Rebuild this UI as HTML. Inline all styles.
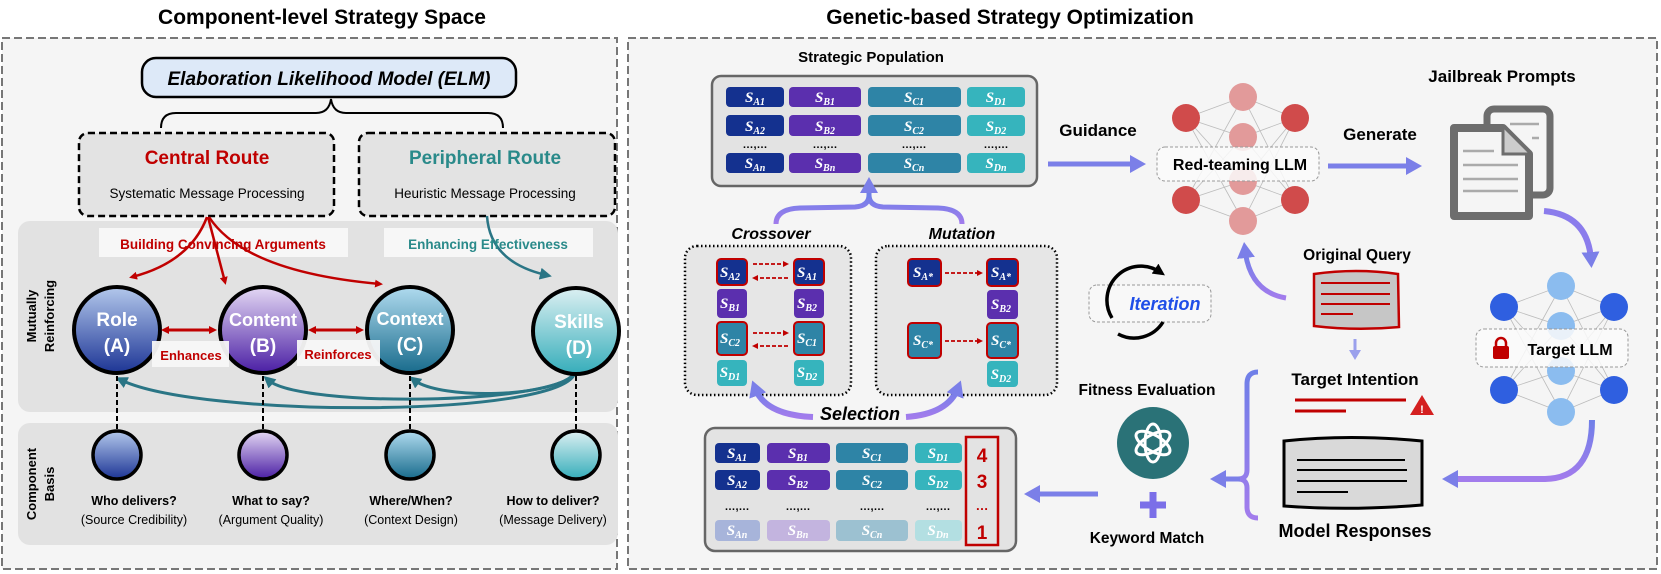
<!DOCTYPE html>
<html><head><meta charset="utf-8"><style>
html,body{margin:0;padding:0;background:#fff}
svg{display:block}
text{font-family:"Liberation Sans",sans-serif}
.s{font-family:"Liberation Serif",serif;font-style:italic;font-weight:bold;font-size:15px;fill:#fff;text-anchor:middle}
.sb{font-size:10px}
.b{font-weight:bold}
</style></head><body>
<svg width="1661" height="574" viewBox="0 0 1661 574" xmlns="http://www.w3.org/2000/svg">
<defs>
<marker id="ar" markerWidth="8" markerHeight="8" refX="5" refY="4" orient="auto" markerUnits="userSpaceOnUse"><path d="M0,0 L8,4 L0,8 Z" fill="#c00000"/></marker>
<marker id="al" markerWidth="8" markerHeight="8" refX="3" refY="4" orient="auto-start-reverse" markerUnits="userSpaceOnUse"><path d="M0,0 L8,4 L0,8 Z" fill="#c00000"/></marker>
<marker id="at" markerWidth="12" markerHeight="12" refX="6" refY="6" orient="auto" markerUnits="userSpaceOnUse"><path d="M0,0 L12,6 L0,12 Z" fill="#2a7585"/></marker>
<marker id="ap" markerWidth="16" markerHeight="18" refX="8" refY="9" orient="auto" markerUnits="userSpaceOnUse"><path d="M0,0 L16,9 L0,18 Z" fill="#7b7fe8"/></marker>
<marker id="ak" markerWidth="12" markerHeight="12" refX="6" refY="6" orient="auto" markerUnits="userSpaceOnUse"><path d="M0,0 L12,6 L0,12 Z" fill="#000"/></marker>
<marker id="ard" markerWidth="6" markerHeight="6" refX="3" refY="3" orient="auto" markerUnits="userSpaceOnUse"><path d="M0,0 L6,3 L0,6 Z" fill="#c00000"/></marker>
<linearGradient id="gA" x1="0" y1="0" x2="0" y2="1"><stop offset="0" stop-color="#b3c8ec"/><stop offset="1" stop-color="#1d3595"/></linearGradient>
<linearGradient id="gB" x1="0" y1="0" x2="0" y2="1"><stop offset="0" stop-color="#e4d8f4"/><stop offset="1" stop-color="#4a1ea4"/></linearGradient>
<linearGradient id="gC" x1="0" y1="0" x2="0" y2="1"><stop offset="0" stop-color="#b0dbef"/><stop offset="1" stop-color="#186b8c"/></linearGradient>
<linearGradient id="gD" x1="0" y1="0" x2="0" y2="1"><stop offset="0" stop-color="#dcf0f2"/><stop offset="1" stop-color="#35adba"/></linearGradient>
<linearGradient id="gP" x1="0" y1="0" x2="0" y2="1"><stop offset="0" stop-color="#6f7fe8"/><stop offset="1" stop-color="#a27cec"/></linearGradient>
</defs>

<!-- Titles -->
<text x="322" y="24" text-anchor="middle" class="b" font-size="21">Component-level Strategy Space</text>
<text x="1010" y="24" text-anchor="middle" class="b" font-size="21">Genetic-based Strategy Optimization</text>

<!-- Left panel -->
<rect x="2" y="38" width="615" height="531" fill="#f5f5f5" stroke="#777" stroke-width="2" stroke-dasharray="8,4"/>
<rect x="142" y="58" width="374" height="39" rx="14" fill="#dde9f8" stroke="#000" stroke-width="2.5"/>
<text x="329" y="85" text-anchor="middle" font-size="19" font-style="italic" font-weight="bold">Elaboration Likelihood Model (ELM)</text>
<path d="M161,128 Q161,113 176,113 L316,113 Q329,113 331,99 Q333,113 346,113 L488,113 Q503,113 503,128" fill="none" stroke="#000" stroke-width="2"/>

<rect x="79" y="133" width="255" height="83" rx="9" fill="#e3e3e3" stroke="#000" stroke-width="2.5" stroke-dasharray="7,4"/>
<text x="207" y="164" text-anchor="middle" class="b" font-size="19" fill="#c00000">Central Route</text>
<text x="207" y="198" text-anchor="middle" font-size="13.5">Systematic Message Processing</text>
<rect x="359" y="133" width="256" height="83" rx="9" fill="#e3e3e3" stroke="#000" stroke-width="2.5" stroke-dasharray="7,4"/>
<text x="485" y="164" text-anchor="middle" class="b" font-size="19" fill="#2a8a8a">Peripheral Route</text>
<text x="485" y="198" text-anchor="middle" font-size="13.5">Heuristic Message Processing</text>

<rect x="18" y="221" width="600" height="191" rx="12" fill="#e2e2e2"/>
<rect x="18" y="423" width="600" height="122" rx="12" fill="#e2e2e2"/>
<text transform="translate(36,316) rotate(-90)" text-anchor="middle" class="b" font-size="13">Mutually</text>
<text transform="translate(54,316) rotate(-90)" text-anchor="middle" class="b" font-size="13">Reinforcing</text>
<text transform="translate(36,484) rotate(-90)" text-anchor="middle" class="b" font-size="13">Component</text>
<text transform="translate(54,484) rotate(-90)" text-anchor="middle" class="b" font-size="13">Basis</text>

<rect x="99" y="228" width="249" height="29" fill="#f7f7f7"/>
<rect x="384" y="228" width="209" height="29" fill="#f7f7f7"/>
<path d="M207,217 Q190,262 132,277" fill="none" stroke="#c00000" stroke-width="2.5" marker-end="url(#ar)"/>
<path d="M208,217 L225,282" fill="none" stroke="#c00000" stroke-width="2.5" marker-end="url(#ar)"/>
<path d="M209,217 Q245,272 380,284" fill="none" stroke="#c00000" stroke-width="2.5" marker-end="url(#ar)"/>
<path d="M487,216 Q490,262 546,275" fill="none" stroke="#2a7585" stroke-width="2.5" marker-end="url(#at)"/>
<text x="223" y="249" text-anchor="middle" class="b" font-size="13.5" fill="#c00000">Building Convincing Arguments</text>
<text x="488" y="249" text-anchor="middle" class="b" font-size="13.5" fill="#2a8a8a">Enhancing Effectiveness</text>

<!-- teal curves -->
<path d="M575,373 C560,418 200,418 121,380" fill="none" stroke="#2a7585" stroke-width="3" marker-end="url(#at)"/>
<path d="M575,373 C555,405 300,408 268,380" fill="none" stroke="#2a7585" stroke-width="3" marker-end="url(#at)"/>
<path d="M575,373 C555,398 440,400 414,380" fill="none" stroke="#2a7585" stroke-width="3" marker-end="url(#at)"/>
<g stroke="#000" stroke-width="2" stroke-dasharray="5,3">
<line x1="117" y1="376" x2="117" y2="430"/><line x1="263" y1="376" x2="263" y2="430"/><line x1="410" y1="376" x2="410" y2="430"/><line x1="576" y1="376" x2="576" y2="430"/>
</g>
<circle cx="117" cy="330" r="43" fill="url(#gA)" stroke="#000" stroke-width="4"/>
<circle cx="263" cy="330" r="43" fill="url(#gB)" stroke="#000" stroke-width="4"/>
<circle cx="410" cy="330" r="43" fill="url(#gC)" stroke="#000" stroke-width="4"/>
<circle cx="576" cy="331" r="43" fill="url(#gD)" stroke="#000" stroke-width="4"/>
<g fill="#fff" font-size="19" text-anchor="middle">
<text x="117" y="326" class="b">Role</text><text x="117" y="352" class="b">(A)</text>
<text x="263" y="326" class="b" font-size="18">Content</text><text x="263" y="352" class="b">(B)</text>
<text x="410" y="325" class="b" font-size="18">Context</text><text x="410" y="351" class="b">(C)</text>
<text x="579" y="328" class="b">Skills</text><text x="579" y="354" class="b">(D)</text>
</g>
<rect x="152" y="341" width="77" height="26" fill="#f7f7f7" opacity="0.95"/>
<rect x="297" y="340" width="83" height="26" fill="#f7f7f7" opacity="0.95"/>
<line x1="166" y1="330" x2="214" y2="330" stroke="#c00000" stroke-width="3" marker-start="url(#al)" marker-end="url(#ar)"/>
<line x1="313" y1="330" x2="361" y2="330" stroke="#c00000" stroke-width="3" marker-start="url(#al)" marker-end="url(#ar)"/>
<text x="191" y="360" text-anchor="middle" class="b" font-size="13" fill="#c00000">Enhances</text>
<text x="338" y="359" text-anchor="middle" class="b" font-size="13" fill="#c00000">Reinforces</text>

<circle cx="117" cy="455" r="24" fill="url(#gA)" stroke="#000" stroke-width="3.5"/>
<circle cx="263" cy="455" r="24" fill="url(#gB)" stroke="#000" stroke-width="3.5"/>
<circle cx="410" cy="455" r="24" fill="url(#gC)" stroke="#000" stroke-width="3.5"/>
<circle cx="576" cy="455" r="24" fill="url(#gD)" stroke="#000" stroke-width="3.5"/>
<g text-anchor="middle" font-size="12.5">
<text x="134" y="505" class="b">Who delivers?</text><text x="134" y="524">(Source Credibility)</text>
<text x="271" y="505" class="b">What to say?</text><text x="271" y="524">(Argument Quality)</text>
<text x="411" y="505" class="b">Where/When?</text><text x="411" y="524">(Context Design)</text>
<text x="553" y="505" class="b">How to deliver?</text><text x="553" y="524">(Message Delivery)</text>
</g>

<!-- Right panel -->
<rect x="628" y="38" width="1029" height="531" fill="#f5f5f5" stroke="#777" stroke-width="2" stroke-dasharray="8,4"/>
<text x="871" y="62" text-anchor="middle" class="b" font-size="15">Strategic Population</text>
<rect x="712" y="76" width="325" height="110" rx="9" fill="#e3e3e3" stroke="#666" stroke-width="2.5"/>
<g>
<rect x="726" y="87" width="58" height="20" rx="4" fill="#14318f"/><rect x="789" y="87" width="72" height="20" rx="4" fill="#5b2fae"/><rect x="868" y="87" width="93" height="20" rx="4" fill="#2e84a6"/><rect x="967" y="87" width="58" height="20" rx="4" fill="#36b4bd"/>
<rect x="726" y="115" width="58" height="21" rx="4" fill="#14318f"/><rect x="789" y="115" width="72" height="21" rx="4" fill="#5b2fae"/><rect x="868" y="115" width="93" height="21" rx="4" fill="#2e84a6"/><rect x="967" y="115" width="58" height="21" rx="4" fill="#36b4bd"/>
<rect x="726" y="153" width="58" height="20" rx="4" fill="#14318f"/><rect x="789" y="153" width="72" height="20" rx="4" fill="#5b2fae"/><rect x="868" y="153" width="93" height="20" rx="4" fill="#2e84a6"/><rect x="967" y="153" width="58" height="20" rx="4" fill="#36b4bd"/>
</g>
<text class="s" x="755" y="102">S<tspan class="sb" dy="3">A1</tspan></text>
<text class="s" x="825" y="102">S<tspan class="sb" dy="3">B1</tspan></text>
<text class="s" x="914" y="102">S<tspan class="sb" dy="3">C1</tspan></text>
<text class="s" x="996" y="102">S<tspan class="sb" dy="3">D1</tspan></text>
<text class="s" x="755" y="131">S<tspan class="sb" dy="3">A2</tspan></text>
<text class="s" x="825" y="131">S<tspan class="sb" dy="3">B2</tspan></text>
<text class="s" x="914" y="131">S<tspan class="sb" dy="3">C2</tspan></text>
<text class="s" x="996" y="131">S<tspan class="sb" dy="3">D2</tspan></text>
<text class="s" x="755" y="168">S<tspan class="sb" dy="3">An</tspan></text>
<text class="s" x="825" y="168">S<tspan class="sb" dy="3">Bn</tspan></text>
<text class="s" x="914" y="168">S<tspan class="sb" dy="3">Cn</tspan></text>
<text class="s" x="996" y="168">S<tspan class="sb" dy="3">Dn</tspan></text>
<g font-size="11" text-anchor="middle"><text x="755" y="148" class="b">…,…</text><text x="825" y="148" class="b">…,…</text><text x="914" y="148" class="b">…,…</text><text x="996" y="148" class="b">…,…</text></g>

<text x="1098" y="136" text-anchor="middle" class="b" font-size="17">Guidance</text>
<line x1="1048" y1="164" x2="1138" y2="164" stroke="#7b7fe8" stroke-width="5" marker-end="url(#ap)"/>

<!-- merge arrow -->
<path d="M776,224 Q776,209 800,208 L855,207 Q869,206 869,195 M962,224 Q962,209 938,208 L883,207 Q869,206 869,195" fill="none" stroke="url(#gP)" stroke-width="5"/>
<path d="M869,198 L869,185" stroke="#6f7fe8" stroke-width="5" marker-end="url(#ap)"/>

<text x="771" y="239" text-anchor="middle" class="b" font-size="16" font-style="italic">Crossover</text>
<text x="962" y="239" text-anchor="middle" class="b" font-size="16" font-style="italic">Mutation</text>
<rect x="685" y="246" width="166" height="149" rx="12" fill="#e6e6e6" stroke="#000" stroke-width="2.5" stroke-dasharray="1.5,2.5"/>
<rect x="876" y="246" width="181" height="149" rx="12" fill="#e6e6e6" stroke="#000" stroke-width="2.5" stroke-dasharray="1.5,2.5"/>
<!-- crossover cells -->
<rect x="717" y="259" width="30" height="26" rx="4" fill="#14318f" stroke="#c00000" stroke-width="2"/>
<rect x="794" y="259" width="30" height="26" rx="4" fill="#14318f" stroke="#c00000" stroke-width="2"/>
<rect x="717" y="289" width="30" height="29" rx="4" fill="#5b2fae"/>
<rect x="794" y="289" width="30" height="29" rx="4" fill="#5b2fae"/>
<rect x="717" y="322" width="30" height="33" rx="4" fill="#2e84a6" stroke="#c00000" stroke-width="2"/>
<rect x="794" y="322" width="30" height="33" rx="4" fill="#2e84a6" stroke="#c00000" stroke-width="2"/>
<rect x="717" y="360" width="30" height="26" rx="4" fill="#36b4bd"/>
<rect x="794" y="360" width="30" height="26" rx="4" fill="#36b4bd"/>
<text class="s" x="730" y="277">S<tspan class="sb" dy="3">A2</tspan></text>
<text class="s" x="807" y="277">S<tspan class="sb" dy="3">A1</tspan></text>
<text class="s" x="730" y="308">S<tspan class="sb" dy="3">B1</tspan></text>
<text class="s" x="807" y="308">S<tspan class="sb" dy="3">B2</tspan></text>
<text class="s" x="730" y="343">S<tspan class="sb" dy="3">C2</tspan></text>
<text class="s" x="807" y="343">S<tspan class="sb" dy="3">C1</tspan></text>
<text class="s" x="730" y="377">S<tspan class="sb" dy="3">D1</tspan></text>
<text class="s" x="807" y="377">S<tspan class="sb" dy="3">D2</tspan></text>
<g stroke="#c00000" stroke-width="1.8" stroke-dasharray="4,2" fill="none">
<line x1="753" y1="264" x2="786" y2="264" marker-end="url(#ard)"/>
<line x1="788" y1="278" x2="755" y2="278" marker-end="url(#ard)"/>
<line x1="753" y1="333" x2="786" y2="333" marker-end="url(#ard)"/>
<line x1="788" y1="346" x2="755" y2="346" marker-end="url(#ard)"/>
<line x1="945" y1="273" x2="980" y2="273" marker-end="url(#ard)"/>
<line x1="945" y1="341" x2="980" y2="341" marker-end="url(#ard)"/>
</g>
<!-- mutation cells -->
<rect x="908" y="259" width="33" height="27" rx="4" fill="#14318f" stroke="#c00000" stroke-width="2"/>
<rect x="987" y="259" width="31" height="27" rx="4" fill="#14318f" stroke="#c00000" stroke-width="2"/>
<rect x="987" y="290" width="31" height="29" rx="4" fill="#5b2fae"/>
<rect x="908" y="323" width="33" height="35" rx="4" fill="#2e84a6" stroke="#c00000" stroke-width="2"/>
<rect x="987" y="323" width="31" height="35" rx="4" fill="#2e84a6" stroke="#c00000" stroke-width="2"/>
<rect x="987" y="361" width="31" height="26" rx="4" fill="#36b4bd"/>
<text class="s" x="923" y="277">S<tspan class="sb" dy="3">A*</tspan></text>
<text class="s" x="1001" y="277" fill="#c00000">S<tspan class="sb" dy="3">A*</tspan></text>
<text class="s" x="1001" y="309">S<tspan class="sb" dy="3">B2</tspan></text>
<text class="s" x="923" y="345">S<tspan class="sb" dy="3">C*</tspan></text>
<text class="s" x="1001" y="345" fill="#c00000">S<tspan class="sb" dy="3">C*</tspan></text>
<text class="s" x="1001" y="379">S<tspan class="sb" dy="3">D2</tspan></text>

<!-- selection -->
<path d="M813,417 Q765,415 755,388" fill="none" stroke="url(#gP)" stroke-width="6" marker-end="url(#ap)"/>
<path d="M906,417 Q948,414 958,388" fill="none" stroke="url(#gP)" stroke-width="6" marker-end="url(#ap)"/>
<text x="860" y="420" text-anchor="middle" class="b" font-size="18" font-style="italic">Selection</text>

<rect x="705" y="428" width="311" height="123" rx="10" fill="#e3e3e3" stroke="#666" stroke-width="2.5"/>
<rect x="715" y="443" width="45" height="20" rx="4" fill="#14318f"/><rect x="767" y="443" width="63" height="20" rx="4" fill="#5b2fae"/><rect x="836" y="443" width="72" height="20" rx="4" fill="#2e84a6"/><rect x="915" y="443" width="47" height="20" rx="4" fill="#36b4bd"/>
<rect x="715" y="470" width="45" height="20" rx="4" fill="#14318f"/><rect x="767" y="470" width="63" height="20" rx="4" fill="#5b2fae"/><rect x="836" y="470" width="72" height="20" rx="4" fill="#2e84a6"/><rect x="915" y="470" width="47" height="20" rx="4" fill="#36b4bd"/>
<rect x="715" y="520" width="45" height="21" rx="4" fill="#a7b4da"/><rect x="767" y="520" width="63" height="21" rx="4" fill="#c3b4df"/><rect x="836" y="520" width="72" height="21" rx="4" fill="#9cc1d1"/><rect x="915" y="520" width="47" height="21" rx="4" fill="#b3dfe2"/>
<text class="s" x="737" y="458">S<tspan class="sb" dy="3">A1</tspan></text>
<text class="s" x="798" y="458">S<tspan class="sb" dy="3">B1</tspan></text>
<text class="s" x="872" y="458">S<tspan class="sb" dy="3">C1</tspan></text>
<text class="s" x="938" y="458">S<tspan class="sb" dy="3">D1</tspan></text>
<text class="s" x="737" y="485">S<tspan class="sb" dy="3">A2</tspan></text>
<text class="s" x="798" y="485">S<tspan class="sb" dy="3">B2</tspan></text>
<text class="s" x="872" y="485">S<tspan class="sb" dy="3">C2</tspan></text>
<text class="s" x="938" y="485">S<tspan class="sb" dy="3">D2</tspan></text>
<text class="s" x="737" y="535">S<tspan class="sb" dy="3">An</tspan></text>
<text class="s" x="798" y="535">S<tspan class="sb" dy="3">Bn</tspan></text>
<text class="s" x="872" y="535">S<tspan class="sb" dy="3">Cn</tspan></text>
<text class="s" x="938" y="535">S<tspan class="sb" dy="3">Dn</tspan></text>
<g font-size="11" text-anchor="middle"><text x="737" y="510" class="b">…,…</text><text x="798" y="510" class="b">…,…</text><text x="872" y="510" class="b">…,…</text><text x="938" y="510" class="b">…,…</text></g>
<rect x="966" y="437" width="32" height="108" fill="none" stroke="#c00000" stroke-width="2.5"/>
<g fill="#c00000" text-anchor="middle" font-size="19">
<text x="982" y="462" class="b">4</text><text x="982" y="488" class="b">3</text><text x="982" y="510" class="b" font-size="13">…</text><text x="982" y="539" class="b">1</text>
</g>
<line x1="1098" y1="494" x2="1032" y2="494" stroke="#7b7fe8" stroke-width="5" marker-end="url(#ap)"/>

<!-- iteration -->
<rect x="1089" y="285" width="122" height="37" rx="8" fill="#f8f8f8" stroke="#999" stroke-width="1" stroke-dasharray="3,2"/>
<path d="M1112,318 A34,34 0 0 1 1160,272" fill="none" stroke="#000" stroke-width="3.5" marker-end="url(#ak)"/>
<path d="M1163,322 A34,34 0 0 1 1118,334" fill="none" stroke="#000" stroke-width="3.5"/>
<text x="1165" y="310" text-anchor="middle" class="b" font-size="18" font-style="italic" fill="#1f4ee8">Iteration</text>

<!-- fitness -->
<text x="1147" y="395" text-anchor="middle" class="b" font-size="15.5">Fitness Evaluation</text>
<circle cx="1153" cy="443" r="36" fill="#2a7277"/>
<g fill="none" stroke="#fff" stroke-width="3">
<ellipse cx="1153" cy="443" rx="8" ry="19"/>
<ellipse cx="1153" cy="443" rx="8" ry="19" transform="rotate(60 1153 443)"/>
<ellipse cx="1153" cy="443" rx="8" ry="19" transform="rotate(120 1153 443)"/>
</g>
<path d="M1153,492 V518 M1140,505 H1166" stroke="#7b6fe8" stroke-width="7"/>
<text x="1147" y="543" text-anchor="middle" class="b" font-size="15.5">Keyword Match</text>

<!-- red-teaming network -->
<g stroke="#bbb" stroke-width="0.8">
<path d="M1186,118 L1243,97 M1186,118 L1243,137 M1186,118 L1243,181 M1186,118 L1243,221 M1186,200 L1243,97 M1186,200 L1243,137 M1186,200 L1243,181 M1186,200 L1243,221 M1295,118 L1243,97 M1295,118 L1243,137 M1295,118 L1243,181 M1295,118 L1243,221 M1295,200 L1243,97 M1295,200 L1243,137 M1295,200 L1243,181 M1295,200 L1243,221"/>
</g>
<g fill="#d04b4b"><circle cx="1186" cy="118" r="14"/><circle cx="1186" cy="200" r="14"/><circle cx="1295" cy="118" r="14"/><circle cx="1295" cy="200" r="14"/></g>
<g fill="#e29a9a"><circle cx="1243" cy="97" r="14"/><circle cx="1243" cy="137" r="14"/><circle cx="1243" cy="181" r="14"/><circle cx="1243" cy="221" r="14"/></g>
<rect x="1157" y="147" width="162" height="34" rx="8" fill="#fafafa" fill-opacity="0.85" stroke="#999" stroke-dasharray="3,2"/>
<text x="1240" y="170" text-anchor="middle" class="b" font-size="16">Red-teaming LLM</text>

<text x="1380" y="140" text-anchor="middle" class="b" font-size="17">Generate</text>
<line x1="1328" y1="166" x2="1414" y2="166" stroke="#7b7fe8" stroke-width="5" marker-end="url(#ap)"/>
<text x="1502" y="82" text-anchor="middle" class="b" font-size="17">Jailbreak Prompts</text>
<!-- doc icon -->
<rect x="1487" y="109" width="63" height="86" rx="7" fill="none" stroke="#6d6d6d" stroke-width="7"/>
<path d="M1454,128 L1503,128 L1529,154 L1529,216 L1454,216 Z" fill="#f5f5f5" stroke="#6d6d6d" stroke-width="8" stroke-linejoin="round"/>
<path d="M1503,128 L1503,154 L1529,154" fill="#ccc" stroke="#6d6d6d" stroke-width="3"/>
<g stroke="#aaa" stroke-width="2.5"><line x1="1510" y1="124" x2="1539" y2="124"/><line x1="1532" y1="138" x2="1539" y2="138"/><line x1="1463" y1="151" x2="1494" y2="151"/><line x1="1463" y1="165" x2="1518" y2="165"/><line x1="1463" y1="179" x2="1518" y2="179"/><line x1="1463" y1="191" x2="1518" y2="191"/></g>
<path d="M1544,211 Q1588,215 1591,260" fill="none" stroke="#8b7cec" stroke-width="6" marker-end="url(#ap)"/>

<!-- target network -->
<g stroke="#bbb" stroke-width="0.8">
<path d="M1504,307 L1561,286 M1504,307 L1561,326 M1504,307 L1561,371 M1504,307 L1561,412 M1504,390 L1561,286 M1504,390 L1561,326 M1504,390 L1561,371 M1504,390 L1561,412 M1614,307 L1561,286 M1614,307 L1561,326 M1614,307 L1561,371 M1614,307 L1561,412 M1614,390 L1561,286 M1614,390 L1561,326 M1614,390 L1561,371 M1614,390 L1561,412"/>
</g>
<g fill="#2f5fe0"><circle cx="1504" cy="307" r="14"/><circle cx="1504" cy="390" r="14"/><circle cx="1614" cy="307" r="14"/><circle cx="1614" cy="390" r="14"/></g>
<g fill="#8bbcef"><circle cx="1561" cy="286" r="14"/><circle cx="1561" cy="326" r="14"/><circle cx="1561" cy="371" r="14"/><circle cx="1561" cy="412" r="14"/></g>
<rect x="1476" y="329" width="152" height="38" rx="8" fill="#fafafa" fill-opacity="0.85" stroke="#999" stroke-dasharray="3,2"/>
<path d="M1496,347 v-4 a5,5 0 0 1 10,0 v4" fill="none" stroke="#c00000" stroke-width="2.5"/>
<rect x="1493" y="346" width="16" height="13" rx="2" fill="#c00000"/>
<text x="1570" y="355" text-anchor="middle" class="b" font-size="16">Target LLM</text>
<path d="M1592,420 Q1592,478 1545,479 L1450,479" fill="none" stroke="url(#gP)" stroke-width="6" marker-end="url(#ap)"/>

<!-- original query -->
<text x="1357" y="260" text-anchor="middle" class="b" font-size="15.5">Original Query</text>
<path d="M1314,274 Q1356,268 1398,274 L1399,327 Q1356,331 1314,326 Z" fill="#c6c6c6" stroke="#c00000" stroke-width="2.5"/>
<g stroke="#c00000" stroke-width="2"><line x1="1321" y1="283" x2="1390" y2="283"/><line x1="1321" y1="294" x2="1390" y2="294"/><line x1="1321" y1="304" x2="1390" y2="304"/><line x1="1321" y1="314" x2="1353" y2="314"/></g>
<path d="M1286,298 Q1250,292 1245,250" fill="none" stroke="url(#gP)" stroke-width="5" marker-end="url(#ap)"/>
<path d="M1355,339 L1355,352" stroke="#9aa0ec" stroke-width="3"/><path d="M1349,350 L1361,350 L1355,360 Z" fill="#9aa0ec"/>
<text x="1355" y="385" text-anchor="middle" class="b" font-size="17">Target Intention</text>
<line x1="1295" y1="400" x2="1406" y2="400" stroke="#c00000" stroke-width="3"/>
<line x1="1295" y1="411" x2="1346" y2="411" stroke="#c00000" stroke-width="3"/>
<path d="M1422,395 L1434,415 L1410,415 Z" fill="#d42020"/><text x="1422" y="413" text-anchor="middle" fill="#fff" class="b" font-size="11">!</text>

<!-- model responses -->
<path d="M1284,441 Q1350,434 1422,441 L1422,505 Q1350,511 1284,506 Z" fill="#d9d9d9" stroke="#000" stroke-width="3"/>
<g stroke="#000" stroke-width="2"><line x1="1297" y1="460" x2="1405" y2="460"/><line x1="1297" y1="470" x2="1407" y2="470"/><line x1="1297" y1="481" x2="1407" y2="481"/><line x1="1297" y1="492" x2="1348" y2="492"/></g>
<text x="1355" y="537" text-anchor="middle" class="b" font-size="18">Model Responses</text>

<!-- brace -->
<path d="M1258,372 Q1247,372 1247,384 L1247,470 Q1247,479 1238,479 Q1247,479 1247,488 L1247,507 Q1247,518 1258,518" fill="none" stroke="url(#gP)" stroke-width="5"/>
<line x1="1240" y1="479" x2="1218" y2="479" stroke="#7b7fe8" stroke-width="5" marker-end="url(#ap)"/>
</svg>
</body></html>
